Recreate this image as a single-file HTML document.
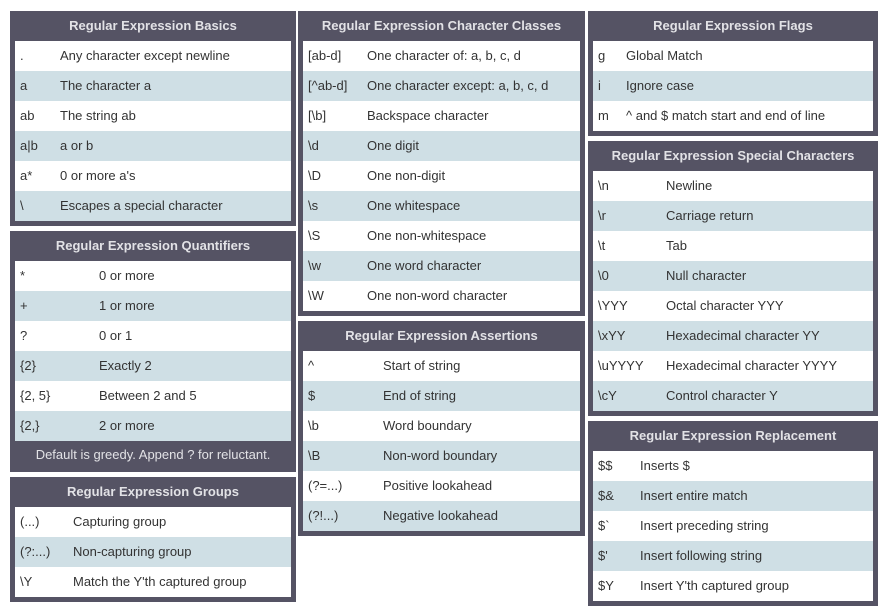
<!DOCTYPE html>
<html><head><meta charset="utf-8"><style>
*{margin:0;padding:0;box-sizing:border-box}
body{width:889px;height:610px;background:#fff;font-family:"Liberation Sans",Arial,sans-serif;position:relative;overflow:hidden}
.b{position:absolute;background:#555364;padding:0 5px 5px 5px}
.h{height:30px;line-height:29px;text-align:center;color:#e2e2e6;font-weight:bold;font-size:13px}
.r{height:30px;line-height:29px;font-size:13px;color:#333;background:#fff;position:relative;white-space:nowrap}
.r:nth-child(odd){background:#cfdfe5}
.r span{position:absolute;left:5px}
.r b{font-weight:normal;position:absolute}
.f{height:26px;line-height:28px;text-align:center;color:#e2e2e6;font-size:13px}
</style></head><body>

<div class="b" style="left:10px;top:11px;width:286px">
<div class="h">Regular Expression Basics</div>
<div class="r"><span>.</span><b style="left:45px">Any character except newline</b></div>
<div class="r"><span>a</span><b style="left:45px">The character a</b></div>
<div class="r"><span>ab</span><b style="left:45px">The string ab</b></div>
<div class="r"><span>a|b</span><b style="left:45px">a or b</b></div>
<div class="r"><span>a*</span><b style="left:45px">0 or more a's</b></div>
<div class="r"><span>\</span><b style="left:45px">Escapes a special character</b></div>
</div>

<div class="b" style="left:10px;top:231px;width:286px;padding-bottom:5px">
<div class="h">Regular Expression Quantifiers</div>
<div class="r"><span>*</span><b style="left:84px">0 or more</b></div>
<div class="r"><span>+</span><b style="left:84px">1 or more</b></div>
<div class="r"><span>?</span><b style="left:84px">0 or 1</b></div>
<div class="r"><span>{2}</span><b style="left:84px">Exactly 2</b></div>
<div class="r"><span>{2, 5}</span><b style="left:84px">Between 2 and 5</b></div>
<div class="r"><span>{2,}</span><b style="left:84px">2 or more</b></div>
<div class="f">Default is greedy. Append ? for reluctant.</div>
</div>

<div class="b" style="left:10px;top:477px;width:286px">
<div class="h">Regular Expression Groups</div>
<div class="r"><span>(...)</span><b style="left:58px">Capturing group</b></div>
<div class="r"><span>(?:...)</span><b style="left:58px">Non-capturing group</b></div>
<div class="r"><span>\Y</span><b style="left:58px">Match the Y'th captured group</b></div>
</div>

<div class="b" style="left:298px;top:11px;width:287px">
<div class="h">Regular Expression Character Classes</div>
<div class="r"><span>[ab-d]</span><b style="left:64px">One character of: a, b, c, d</b></div>
<div class="r"><span>[^ab-d]</span><b style="left:64px">One character except: a, b, c, d</b></div>
<div class="r"><span>[\b]</span><b style="left:64px">Backspace character</b></div>
<div class="r"><span>\d</span><b style="left:64px">One digit</b></div>
<div class="r"><span>\D</span><b style="left:64px">One non-digit</b></div>
<div class="r"><span>\s</span><b style="left:64px">One whitespace</b></div>
<div class="r"><span>\S</span><b style="left:64px">One non-whitespace</b></div>
<div class="r"><span>\w</span><b style="left:64px">One word character</b></div>
<div class="r"><span>\W</span><b style="left:64px">One non-word character</b></div>
</div>

<div class="b" style="left:298px;top:321px;width:287px">
<div class="h">Regular Expression Assertions</div>
<div class="r"><span>^</span><b style="left:80px">Start of string</b></div>
<div class="r"><span>$</span><b style="left:80px">End of string</b></div>
<div class="r"><span>\b</span><b style="left:80px">Word boundary</b></div>
<div class="r"><span>\B</span><b style="left:80px">Non-word boundary</b></div>
<div class="r"><span>(?=...)</span><b style="left:80px">Positive lookahead</b></div>
<div class="r"><span>(?!...)</span><b style="left:80px">Negative lookahead</b></div>
</div>

<div class="b" style="left:588px;top:11px;width:290px">
<div class="h">Regular Expression Flags</div>
<div class="r"><span>g</span><b style="left:33px">Global Match</b></div>
<div class="r"><span>i</span><b style="left:33px">Ignore case</b></div>
<div class="r"><span>m</span><b style="left:33px">^ and $ match start and end of line</b></div>
</div>

<div class="b" style="left:588px;top:141px;width:290px">
<div class="h">Regular Expression Special Characters</div>
<div class="r"><span>\n</span><b style="left:73px">Newline</b></div>
<div class="r"><span>\r</span><b style="left:73px">Carriage return</b></div>
<div class="r"><span>\t</span><b style="left:73px">Tab</b></div>
<div class="r"><span>\0</span><b style="left:73px">Null character</b></div>
<div class="r"><span>\YYY</span><b style="left:73px">Octal character YYY</b></div>
<div class="r"><span>\xYY</span><b style="left:73px">Hexadecimal character YY</b></div>
<div class="r"><span>\uYYYY</span><b style="left:73px">Hexadecimal character YYYY</b></div>
<div class="r"><span>\cY</span><b style="left:73px">Control character Y</b></div>
</div>

<div class="b" style="left:588px;top:421px;width:290px">
<div class="h">Regular Expression Replacement</div>
<div class="r"><span>$$</span><b style="left:47px">Inserts $</b></div>
<div class="r"><span>$&amp;</span><b style="left:47px">Insert entire match</b></div>
<div class="r"><span>$`</span><b style="left:47px">Insert preceding string</b></div>
<div class="r"><span>$'</span><b style="left:47px">Insert following string</b></div>
<div class="r"><span>$Y</span><b style="left:47px">Insert Y'th captured group</b></div>
</div>

</body></html>
